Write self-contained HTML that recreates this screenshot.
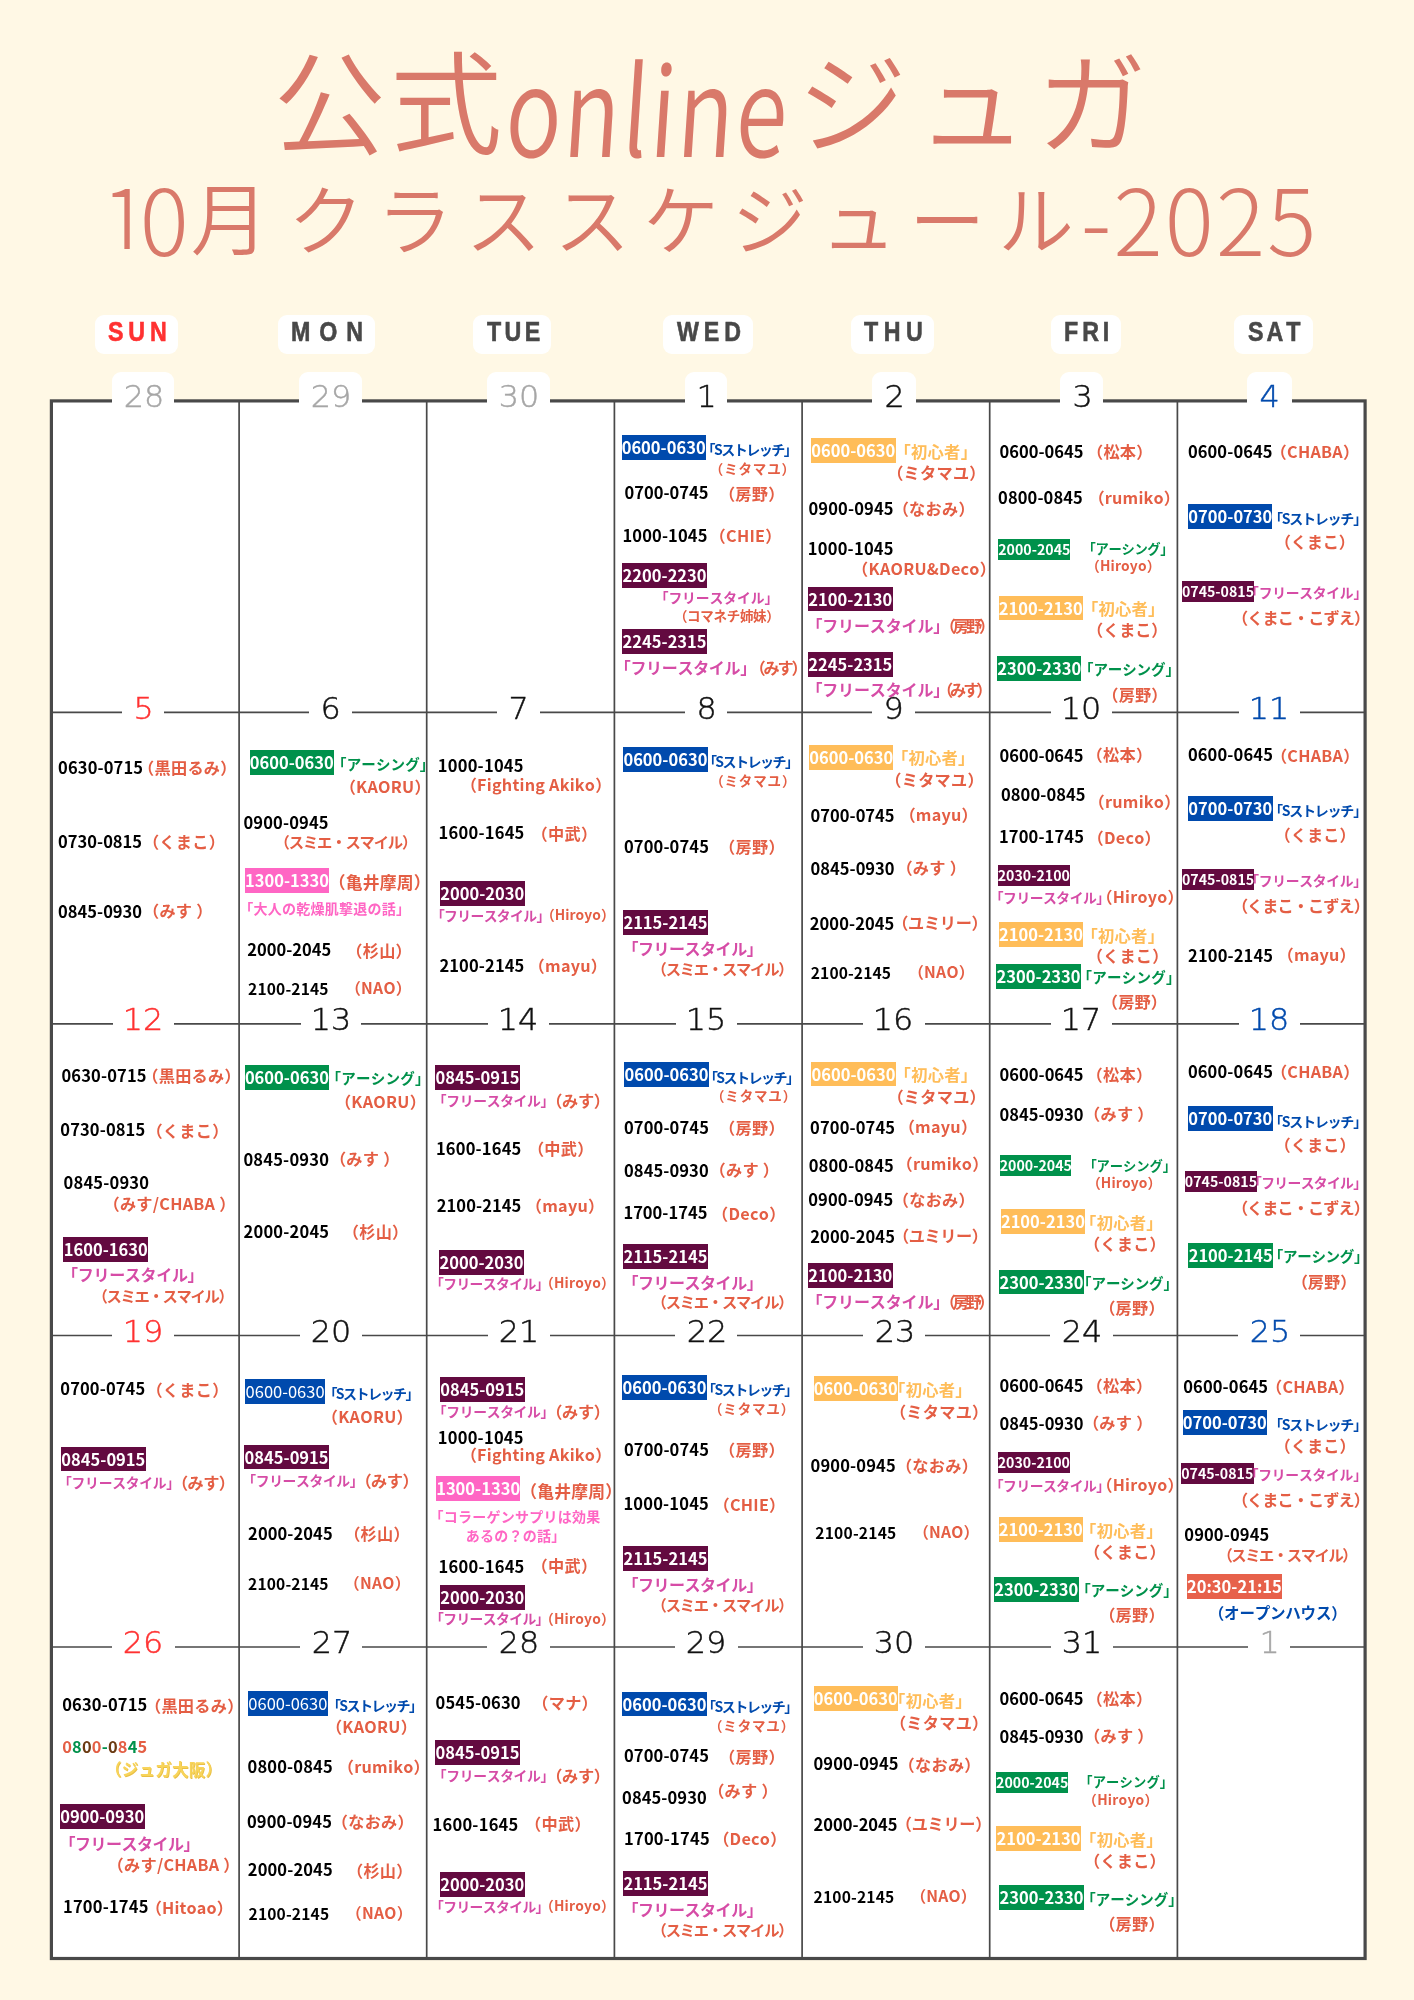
<!DOCTYPE html>
<html lang="ja"><head><meta charset="utf-8"><title>公式onlineジュガ 10月クラススケジュール-2025</title>
<style>
html,body{margin:0;padding:0}
body{width:1414px;height:2000px;background:#fff8e5;position:relative;overflow:hidden;font-family:"Noto Sans CJK JP","Liberation Sans",sans-serif;font-weight:700;font-size:16px;line-height:24px;font-kerning:none}
#c{position:absolute;left:0;top:0;width:1414px;height:2000px;will-change:transform}
#c>div{position:absolute;white-space:pre}
.grid{position:absolute;left:0;top:0}
.s{color:#e45e44}.k{color:#000}.b{color:#004aad}.o{color:#ffbd59}.p{color:#d64ca6}.g{color:#00914b}.h{color:#ff66c4}.y{color:#f8d45a}.t{color:#d9796a}
.x{color:#fff;text-align:center;overflow:visible}
.B{background:#004aad}.O{background:#ffbd59}.U{background:#630a40}.G{background:#00914b}.H{background:#ff66c4}.R{background:#e7614b}
.dp{top:314.7px;height:39.2px;background:#fff;border-radius:9px}
.dn{top:312px;line-height:40px;font-family:"Liberation Sans",sans-serif;font-size:27px;font-weight:700;color:#484848;transform:scaleX(.86);transform-origin:0 50%;-webkit-text-stroke:.6px currentColor}
.sun{color:#ff3131}
.one{display:inline-block;clip-path:inset(0 0 21.5px 0)}
.pl{height:42px;background:#fff;border-radius:9px}
.dt{font-family:"DejaVu Sans","Liberation Sans",sans-serif;font-weight:200;font-size:30px;line-height:40px;color:#111;-webkit-text-stroke:.45px currentColor;transform:scaleX(1.06)}
.gy{color:#a6a6a6}.rd{color:#ff3131}.bl{color:#004aad}
</style></head>
<body>
<svg class="grid" width="1414" height="2000" viewBox="0 0 1414 2000">
<rect x="51.4" y="400.9" width="1313.7" height="1557.6" fill="#fff" stroke="#494949" stroke-width="3.2"/>
<path d="M239.1 400.9V1958.5M426.7 400.9V1958.5M614.4 400.9V1958.5M802.1 400.9V1958.5M989.7 400.9V1958.5M1177.4 400.9V1958.5M51.4 712.4H1365.1M51.4 1023.9H1365.1M51.4 1335.5H1365.1M51.4 1647H1365.1" stroke="#494949" stroke-width="1.7" fill="none"/>
</svg>
<div id="c">
<div class="dp" style="left:94.6px;width:83.7px"></div>
<div class="dn sun" style="left:108.1px;letter-spacing:5.62px">SUN</div>
<div class="dp" style="left:278.2px;width:96.5px"></div>
<div class="dn" style="left:291.1px;letter-spacing:10.35px">MON</div>
<div class="dp" style="left:473.1px;width:78.3px"></div>
<div class="dn" style="left:486.7px;letter-spacing:3.94px">TUE</div>
<div class="dp" style="left:662.5px;width:90.1px"></div>
<div class="dn" style="left:676.5px;letter-spacing:5.72px">WED</div>
<div class="dp" style="left:850.8px;width:83.1px"></div>
<div class="dn" style="left:864.1px;letter-spacing:6.48px">THU</div>
<div class="dp" style="left:1050.9px;width:70.1px"></div>
<div class="dn" style="left:1063.9px;letter-spacing:4.60px">FRI</div>
<div class="dp" style="left:1233.8px;width:79.2px"></div>
<div class="dn" style="left:1247.5px;letter-spacing:3.46px">SAT</div>
<div class="pl" style="left:111.9px;top:372px;width:62.6px"></div>
<div class="dt gy" style="left:124.6px;top:377.3px">28</div>
<div class="pl" style="left:299.4px;top:372px;width:63.1px"></div>
<div class="dt gy" style="left:312px;top:377.3px">29</div>
<div class="pl" style="left:487.3px;top:372px;width:62.6px"></div>
<div class="dt gy" style="left:499.9px;top:377.3px">30</div>
<div class="pl" style="left:685.4px;top:372px;width:41.7px"></div>
<div class="dt" style="left:696.6px;top:377.3px">1</div>
<div class="pl" style="left:872.1px;top:372px;width:43.5px"></div>
<div class="dt" style="left:884.8px;top:377.3px">2</div>
<div class="pl" style="left:1060.1px;top:372px;width:43.1px"></div>
<div class="dt" style="left:1072.7px;top:377.3px">3</div>
<div class="pl" style="left:1247px;top:372px;width:44.5px"></div>
<div class="dt bl" style="left:1260.1px;top:377.3px">4</div>
<div class="pl" style="left:122.2px;top:683.5px;width:42.1px"></div>
<div class="dt rd" style="left:133.9px;top:688.9px">5</div>
<div class="pl" style="left:309.4px;top:683.5px;width:43.1px"></div>
<div class="dt" style="left:321.1px;top:688.9px">6</div>
<div class="pl" style="left:497.3px;top:683.5px;width:42.6px"></div>
<div class="dt" style="left:509.4px;top:688.9px">7</div>
<div class="pl" style="left:684.9px;top:683.5px;width:42.6px"></div>
<div class="dt" style="left:696.6px;top:688.9px">8</div>
<div class="pl" style="left:872.4px;top:683.5px;width:43.1px"></div>
<div class="dt" style="left:884.1px;top:688.9px">9</div>
<div class="pl" style="left:1051px;top:683.5px;width:61.2px"></div>
<div class="dt" style="left:1062.2px;top:688.9px">10</div>
<div class="pl" style="left:1238.9px;top:683.5px;width:60.7px"></div>
<div class="dt bl" style="left:1250.1px;top:688.9px">11</div>
<div class="pl" style="left:112.6px;top:995px;width:61.2px"></div>
<div class="dt rd" style="left:123.8px;top:1000.4px">12</div>
<div class="pl" style="left:300.5px;top:995px;width:60.7px"></div>
<div class="dt" style="left:311.8px;top:1000.4px">13</div>
<div class="pl" style="left:487.7px;top:995px;width:61.7px"></div>
<div class="dt" style="left:499px;top:1000.4px">14</div>
<div class="pl" style="left:675.9px;top:995px;width:60.7px"></div>
<div class="dt" style="left:687.1px;top:1000.4px">15</div>
<div class="pl" style="left:863.1px;top:995px;width:61.7px"></div>
<div class="dt" style="left:874.3px;top:1000.4px">16</div>
<div class="pl" style="left:1051.2px;top:995px;width:60.7px"></div>
<div class="dt" style="left:1062.4px;top:1000.4px">17</div>
<div class="pl" style="left:1238.6px;top:995px;width:61.2px"></div>
<div class="dt bl" style="left:1249.9px;top:1000.4px">18</div>
<div class="pl" style="left:112.4px;top:1306.6px;width:61.7px"></div>
<div class="dt rd" style="left:123.6px;top:1311.9px">19</div>
<div class="pl" style="left:299.6px;top:1306.6px;width:62.6px"></div>
<div class="dt" style="left:312.2px;top:1311.9px">20</div>
<div class="pl" style="left:487.5px;top:1306.6px;width:62.1px"></div>
<div class="dt" style="left:500.1px;top:1311.9px">21</div>
<div class="pl" style="left:674.9px;top:1306.6px;width:62.6px"></div>
<div class="dt" style="left:687.6px;top:1311.9px">22</div>
<div class="pl" style="left:862.8px;top:1306.6px;width:62.1px"></div>
<div class="dt" style="left:875.5px;top:1311.9px">23</div>
<div class="pl" style="left:1050px;top:1306.6px;width:63.1px"></div>
<div class="dt" style="left:1062.7px;top:1311.9px">24</div>
<div class="pl" style="left:1238.2px;top:1306.6px;width:62.1px"></div>
<div class="dt bl" style="left:1250.8px;top:1311.9px">25</div>
<div class="pl" style="left:111.7px;top:1618.1px;width:63.1px"></div>
<div class="dt rd" style="left:124.3px;top:1623.4px">26</div>
<div class="pl" style="left:299.8px;top:1618.1px;width:62.1px"></div>
<div class="dt" style="left:312.5px;top:1623.4px">27</div>
<div class="pl" style="left:487.3px;top:1618.1px;width:62.6px"></div>
<div class="dt" style="left:499.9px;top:1623.4px">28</div>
<div class="pl" style="left:674.7px;top:1618.1px;width:63.1px"></div>
<div class="dt" style="left:687.3px;top:1623.4px">29</div>
<div class="pl" style="left:862.6px;top:1618.1px;width:62.6px"></div>
<div class="dt" style="left:875.2px;top:1623.4px">30</div>
<div class="pl" style="left:1050.5px;top:1618.1px;width:62.1px"></div>
<div class="dt" style="left:1063.1px;top:1623.4px">31</div>
<div class="pl" style="left:1248.4px;top:1618.1px;width:41.7px"></div>
<div class="dt gy" style="left:1259.6px;top:1623.4px">1</div>
<div class="x B" style="left:621.6px;top:435.3px;width:84.1px;height:24.8px;line-height:25.6px;font-size:16.5px">0600-0630</div>
<div class="b" style="left:701.6px;top:437.4px;font-size:14px;letter-spacing:-1.52px">「Sストレッチ」</div>
<div class="s" style="left:709.8px;top:456.3px;font-size:13.5px;letter-spacing:0.84px">（ミタマユ）</div>
<div class="k" style="left:624.5px;top:480.4px;font-size:16.5px">0700-0745</div>
<div class="s" style="left:718.9px;top:480.8px;font-size:16.2px;letter-spacing:0.25px">（房野）</div>
<div class="k" style="left:622.5px;top:522.6px;font-size:16.5px;letter-spacing:0.11px">1000-1045</div>
<div class="s" style="left:709.6px;top:523px;font-size:16.2px;letter-spacing:0.25px">（CHIE）</div>
<div class="x U" style="left:622.1px;top:563.3px;width:85px;height:24.8px;line-height:25.6px;font-size:16.5px">2200-2230</div>
<div class="p" style="left:654.7px;top:585px;font-size:13.8px;letter-spacing:-0.08px">「フリースタイル」</div>
<div class="s" style="left:673.9px;top:602.5px;font-size:13.5px;letter-spacing:-0.30px">（コマネチ姉妹）</div>
<div class="x U" style="left:622.1px;top:628.9px;width:85px;height:24.8px;line-height:25.6px;font-size:16.5px">2245-2315</div>
<div class="p" style="left:614.7px;top:655.2px;letter-spacing:-0.31px">「フリースタイル」</div>
<div class="s" style="left:749.4px;top:655.3px;font-size:16.2px;letter-spacing:-2.13px">（みす）</div>
<div class="x O" style="left:810.8px;top:438.1px;width:84.9px;height:24.8px;line-height:25.6px;font-size:16.5px">0600-0630</div>
<div class="o" style="left:894.5px;top:438.6px;font-size:16.3px;letter-spacing:0.25px">「初心者」</div>
<div class="s" style="left:887.2px;top:460.1px;font-size:16.2px;letter-spacing:0.25px">（ミタマユ）</div>
<div class="k" style="left:808.4px;top:495.5px;font-size:16.5px;letter-spacing:0.14px">0900-0945</div>
<div class="s" style="left:892.7px;top:495.9px;font-size:16.2px;letter-spacing:0.25px">（なおみ）</div>
<div class="k" style="left:807.8px;top:536.3px;font-size:16.5px;letter-spacing:0.22px">1000-1045</div>
<div class="s" style="left:852.1px;top:555.5px;font-size:16.2px;letter-spacing:0.25px">（KAORU&amp;Deco）</div>
<div class="x U" style="left:808px;top:586.5px;width:84.7px;height:24.8px;line-height:25.6px;font-size:16.5px">2100-2130</div>
<div class="p" style="left:806.4px;top:612.5px;letter-spacing:-0.14px">「フリースタイル」</div>
<div class="s" style="left:939.7px;top:612.6px;font-size:16.2px;letter-spacing:-3.07px">（房野）</div>
<div class="x U" style="left:808px;top:652.1px;width:84.7px;height:24.8px;line-height:25.6px;font-size:16.5px">2245-2315</div>
<div class="p" style="left:806.4px;top:677.3px;letter-spacing:-0.14px">「フリースタイル」</div>
<div class="s" style="left:936.9px;top:677.4px;font-size:16.2px;letter-spacing:-3.07px">（みす）</div>
<div class="k" style="left:999.5px;top:439px;font-size:16.5px">0600-0645</div>
<div class="s" style="left:1087px;top:439.4px;font-size:16.2px;letter-spacing:0.25px">（松本）</div>
<div class="k" style="left:998.1px;top:484.5px;font-size:16.5px;letter-spacing:0.09px">0800-0845</div>
<div class="s" style="left:1088.5px;top:484.9px;font-size:16.2px;letter-spacing:0.18px">（rumiko）</div>
<div class="x G" style="left:998.2px;top:538.5px;width:71.8px;height:21px;line-height:21.8px;font-size:14.2px">2000-2045</div>
<div class="g" style="left:1082.4px;top:536.9px;font-size:13.3px;letter-spacing:-0.30px">「アーシング」</div>
<div class="s" style="left:1086px;top:553.3px;font-size:13.8px;letter-spacing:0.15px">（Hiroyo）</div>
<div class="x O" style="left:998.8px;top:595.6px;width:84.1px;height:24.8px;line-height:25.6px;font-size:16.5px">2100-2130</div>
<div class="o" style="left:1081.9px;top:595.9px;font-size:16.3px;letter-spacing:0.25px">「初心者」</div>
<div class="s" style="left:1087.1px;top:616.7px;font-size:16.2px;letter-spacing:-0.12px">（くまこ）</div>
<div class="x G" style="left:997.1px;top:655.9px;width:84.4px;height:24.8px;line-height:25.6px;font-size:16.5px">2300-2330</div>
<div class="g" style="left:1079px;top:656.9px;font-size:14.5px;letter-spacing:-0.10px">「アーシング」</div>
<div class="s" style="left:1102.3px;top:681.5px;font-size:16.2px;letter-spacing:0.17px">（房野）</div>
<div class="k" style="left:1187.9px;top:439px;font-size:16.5px;letter-spacing:0.09px">0600-0645</div>
<div class="s" style="left:1270.6px;top:439.4px;font-size:16.2px;letter-spacing:0.25px">（CHABA）</div>
<div class="x B" style="left:1188.3px;top:503.8px;width:84.1px;height:24.8px;line-height:25.6px;font-size:16.5px">0700-0730</div>
<div class="b" style="left:1269px;top:505.8px;font-size:14px;letter-spacing:-1.23px">「Sストレッチ」</div>
<div class="s" style="left:1274.7px;top:528.5px;font-size:16.2px;letter-spacing:-0.15px">（くまこ）</div>
<div class="x U" style="left:1181.9px;top:581px;width:72px;height:21px;line-height:21.8px;font-size:14.2px">0745-0815</div>
<div class="p" style="left:1245.1px;top:579.5px;font-size:13.8px;letter-spacing:-0.26px">「フリースタイル」</div>
<div class="s" style="left:1231.9px;top:604.9px;font-size:16.2px;letter-spacing:-0.92px">（くまこ・こずえ）</div>
<div class="k" style="left:58.1px;top:754.6px;font-size:16.5px;letter-spacing:0.11px">0630-0715</div>
<div class="s" style="left:138.1px;top:755px;font-size:16.2px;letter-spacing:0.25px">（黒田るみ）</div>
<div class="k" style="left:58.1px;top:828.5px;font-size:16.5px">0730-0815</div>
<div class="s" style="left:142.9px;top:828.9px;font-size:16.2px;letter-spacing:0.25px">（くまこ）</div>
<div class="k" style="left:58.1px;top:898.8px;font-size:16.5px">0845-0930</div>
<div class="s" style="left:143px;top:897.8px;font-size:16.2px;letter-spacing:0.25px">（みす ）</div>
<div class="x G" style="left:249.7px;top:750.4px;width:84.3px;height:24.8px;line-height:25.6px;font-size:16.5px">0600-0630</div>
<div class="g" style="left:332px;top:752.4px;font-size:14.5px;letter-spacing:0.13px">「アーシング」</div>
<div class="s" style="left:339.7px;top:774.3px;font-size:16.2px;letter-spacing:0.25px">（KAORU）</div>
<div class="k" style="left:243.4px;top:810.3px;font-size:16.5px;letter-spacing:0.14px">0900-0945</div>
<div class="s" style="left:274.6px;top:829.4px;font-size:15.3px;letter-spacing:-1.14px">（スミエ・スマイル）</div>
<div class="x H" style="left:245px;top:868.1px;width:84.1px;height:24.8px;line-height:25.6px;font-size:16.5px">1300-1330</div>
<div class="s" style="left:328.7px;top:870.1px;font-size:16.8px;letter-spacing:0.25px">（亀井摩周）</div>
<div class="h" style="left:239.2px;top:896.1px;font-size:14px;letter-spacing:0.25px">「大人の乾燥肌撃退の話」</div>
<div class="k" style="left:247.2px;top:937.2px;font-size:16.5px">2000-2045</div>
<div class="s" style="left:346.3px;top:937.6px;font-size:16.2px;letter-spacing:0.25px">（杉山）</div>
<div class="k" style="left:248.1px;top:976.1px;font-size:15.6px;letter-spacing:0.13px">2100-2145</div>
<div class="s" style="left:345.2px;top:976.3px;font-size:15.7px;letter-spacing:0.25px">（NAO）</div>
<div class="k" style="left:437.8px;top:753.2px;font-size:16.5px;letter-spacing:0.22px">1000-1045</div>
<div class="s" style="left:460.7px;top:771.7px;font-size:16.2px;letter-spacing:0.23px">（Fighting Akiko）</div>
<div class="k" style="left:438.6px;top:820.2px;font-size:16.5px;letter-spacing:0.22px">1600-1645</div>
<div class="s" style="left:531.6px;top:820.6px;font-size:16.2px;letter-spacing:0.25px">（中武）</div>
<div class="x U" style="left:439.9px;top:881.2px;width:84.7px;height:24.8px;line-height:25.6px;font-size:16.5px">2000-2030</div>
<div class="p" style="left:430.9px;top:902.5px;font-size:13.8px;letter-spacing:-0.60px">「フリースタイル」</div>
<div class="s" style="left:540.9px;top:901.7px;font-size:13.8px;letter-spacing:0.06px">（Hiroyo）</div>
<div class="k" style="left:439.4px;top:953.1px;font-size:16.5px;letter-spacing:0.12px">2100-2145</div>
<div class="s" style="left:528.6px;top:952.5px;font-size:16.2px;letter-spacing:0.25px">（mayu）</div>
<div class="x B" style="left:623.1px;top:747.1px;width:84.6px;height:24.8px;line-height:25.6px;font-size:16.5px">0600-0630</div>
<div class="b" style="left:702.9px;top:748.9px;font-size:14px;letter-spacing:-1.52px">「Sストレッチ」</div>
<div class="s" style="left:710.2px;top:767.5px;font-size:13.5px;letter-spacing:0.84px">（ミタマユ）</div>
<div class="k" style="left:624px;top:833.7px;font-size:16.5px;letter-spacing:0.11px">0700-0745</div>
<div class="s" style="left:719.1px;top:834.1px;font-size:16.2px;letter-spacing:0.25px">（房野）</div>
<div class="x U" style="left:623.1px;top:910.1px;width:84.6px;height:24.8px;line-height:25.6px;font-size:16.5px">2115-2145</div>
<div class="p" style="left:622.5px;top:936.1px;letter-spacing:-0.48px">「フリースタイル」</div>
<div class="s" style="left:651.6px;top:955.8px;font-size:15.3px;letter-spacing:-1.23px">（スミエ・スマイル）</div>
<div class="x O" style="left:809.1px;top:744.9px;width:84.4px;height:24.8px;line-height:25.6px;font-size:16.5px">0600-0630</div>
<div class="o" style="left:891.9px;top:745.1px;font-size:16.3px;letter-spacing:0.25px">「初心者」</div>
<div class="s" style="left:885.3px;top:767.4px;font-size:16.2px;letter-spacing:0.25px">（ミタマユ）</div>
<div class="k" style="left:810.6px;top:802.8px;font-size:16.5px">0700-0745</div>
<div class="s" style="left:899.4px;top:802.2px;font-size:16.2px;letter-spacing:0.25px">（mayu）</div>
<div class="k" style="left:810.6px;top:856.1px;font-size:16.5px">0845-0930</div>
<div class="s" style="left:896.4px;top:854.8px;font-size:16.2px;letter-spacing:0.25px">（みす ）</div>
<div class="k" style="left:809.7px;top:911.2px;font-size:16.5px;letter-spacing:0.08px">2000-2045</div>
<div class="s" style="left:892.2px;top:909.8px;font-size:16.2px;letter-spacing:-0.30px">（ユミリー）</div>
<div class="k" style="left:810.8px;top:959.6px;font-size:15.6px;letter-spacing:0.10px">2100-2145</div>
<div class="s" style="left:908.2px;top:959.8px;font-size:15.7px;letter-spacing:0.25px">（NAO）</div>
<div class="k" style="left:999.6px;top:743px;font-size:16.5px">0600-0645</div>
<div class="s" style="left:1086.6px;top:742.3px;font-size:16.2px;letter-spacing:0.25px">（松本）</div>
<div class="k" style="left:1001px;top:782.1px;font-size:16.5px;letter-spacing:0.07px">0800-0845</div>
<div class="s" style="left:1088.5px;top:789.4px;font-size:16.2px;letter-spacing:0.25px">（rumiko）</div>
<div class="k" style="left:999px;top:824.3px;font-size:16.5px;letter-spacing:0.11px">1700-1745</div>
<div class="s" style="left:1087.5px;top:824.7px;font-size:16.2px;letter-spacing:0.25px">（Deco）</div>
<div class="x U" style="left:997.5px;top:865px;width:72.6px;height:21px;line-height:21.8px;font-size:14.2px">2030-2100</div>
<div class="p" style="left:989.8px;top:885.1px;font-size:13.8px;letter-spacing:-0.49px">「フリースタイル」</div>
<div class="s" style="left:1096.5px;top:884px;letter-spacing:0.25px">（Hiroyo）</div>
<div class="x O" style="left:998.9px;top:922.1px;width:84.1px;height:24.8px;line-height:25.6px;font-size:16.5px">2100-2130</div>
<div class="o" style="left:1081.5px;top:922.5px;font-size:16.3px;letter-spacing:0.25px">「初心者」</div>
<div class="s" style="left:1086.7px;top:943.3px;font-size:16.2px;letter-spacing:0.20px">（くまこ）</div>
<div class="x G" style="left:996.1px;top:963.9px;width:85px;height:24.8px;line-height:25.6px;font-size:16.5px">2300-2330</div>
<div class="g" style="left:1077.5px;top:965.2px;font-size:14.5px;letter-spacing:0.25px">「アーシング」</div>
<div class="s" style="left:1101.8px;top:989.4px;font-size:16.2px;letter-spacing:0.17px">（房野）</div>
<div class="k" style="left:1187.9px;top:742.2px;font-size:16.5px;letter-spacing:0.13px">0600-0645</div>
<div class="s" style="left:1270.9px;top:742.6px;font-size:16.2px;letter-spacing:0.25px">（CHABA）</div>
<div class="x B" style="left:1188px;top:796.1px;width:84.7px;height:24.8px;line-height:25.6px;font-size:16.5px">0700-0730</div>
<div class="b" style="left:1269px;top:798.2px;font-size:14px;letter-spacing:-1.23px">「Sストレッチ」</div>
<div class="s" style="left:1274.4px;top:821.9px;font-size:16.2px;letter-spacing:0.10px">（くまこ）</div>
<div class="x U" style="left:1182px;top:869px;width:72.1px;height:21px;line-height:21.8px;font-size:14.2px">0745-0815</div>
<div class="p" style="left:1245.3px;top:867.5px;font-size:13.8px;letter-spacing:-0.31px">「フリースタイル」</div>
<div class="s" style="left:1231.9px;top:892.8px;font-size:16.2px;letter-spacing:-0.96px">（くまこ・こずえ）</div>
<div class="k" style="left:1188.1px;top:942.7px;font-size:16.5px;letter-spacing:0.11px">2100-2145</div>
<div class="s" style="left:1277.6px;top:942.1px;font-size:16.2px;letter-spacing:0.20px">（mayu）</div>
<div class="k" style="left:61.4px;top:1062.8px;font-size:16.5px;letter-spacing:0.14px">0630-0715</div>
<div class="s" style="left:142.3px;top:1063.2px;font-size:16.2px;letter-spacing:0.25px">（黒田るみ）</div>
<div class="k" style="left:60.3px;top:1117.4px;font-size:16.5px;letter-spacing:0.11px">0730-0815</div>
<div class="s" style="left:146.4px;top:1117.8px;font-size:16.2px;letter-spacing:0.25px">（くまこ）</div>
<div class="k" style="left:63.6px;top:1170.4px;font-size:16.5px;letter-spacing:0.18px">0845-0930</div>
<div class="s" style="left:103.5px;top:1190.8px;font-size:16.2px;letter-spacing:0.25px">（みす/CHABA ）</div>
<div class="x U" style="left:63.2px;top:1237.2px;width:85px;height:24.8px;line-height:25.6px;font-size:16.5px">1600-1630</div>
<div class="p" style="left:62.1px;top:1262.2px;letter-spacing:-0.31px">「フリースタイル」</div>
<div class="s" style="left:92.6px;top:1282.5px;font-size:15.3px;letter-spacing:-1.30px">（スミエ・スマイル）</div>
<div class="x G" style="left:244.7px;top:1064.9px;width:84.4px;height:24.8px;line-height:25.6px;font-size:16.5px">0600-0630</div>
<div class="g" style="left:326.5px;top:1066.2px;font-size:14.5px;letter-spacing:0.23px">「アーシング」</div>
<div class="s" style="left:334.9px;top:1088.8px;font-size:16.2px;letter-spacing:0.25px">（KAORU）</div>
<div class="k" style="left:243.4px;top:1146.9px;font-size:16.5px;letter-spacing:0.19px">0845-0930</div>
<div class="s" style="left:329.9px;top:1145.8px;font-size:16.2px;letter-spacing:0.25px">（みす ）</div>
<div class="k" style="left:243.6px;top:1218.6px;font-size:16.5px;letter-spacing:0.19px">2000-2045</div>
<div class="s" style="left:342.8px;top:1219px;font-size:16.2px;letter-spacing:0.25px">（杉山）</div>
<div class="x U" style="left:435.2px;top:1064.8px;width:84.7px;height:24.8px;line-height:25.6px;font-size:16.5px">0845-0915</div>
<div class="p" style="left:432.8px;top:1088px;font-size:13.8px;letter-spacing:-0.33px">「フリースタイル」</div>
<div class="s" style="left:546.2px;top:1088px;font-size:16.2px;letter-spacing:-0.30px">（みす）</div>
<div class="k" style="left:435.9px;top:1136.4px;font-size:16.5px;letter-spacing:0.18px">1600-1645</div>
<div class="s" style="left:527.9px;top:1135.8px;font-size:16.2px;letter-spacing:0.25px">（中武）</div>
<div class="k" style="left:436.7px;top:1193.3px;font-size:16.5px;letter-spacing:0.08px">2100-2145</div>
<div class="s" style="left:525.8px;top:1192.7px;font-size:16.2px;letter-spacing:0.25px">（mayu）</div>
<div class="x U" style="left:439.1px;top:1249.8px;width:84.9px;height:24.8px;line-height:25.6px;font-size:16.5px">2000-2030</div>
<div class="p" style="left:430px;top:1270.9px;font-size:13.8px;letter-spacing:-0.60px">「フリースタイル」</div>
<div class="s" style="left:540px;top:1270.1px;font-size:13.8px;letter-spacing:0.19px">（Hiroyo）</div>
<div class="x B" style="left:624.2px;top:1062.4px;width:84.6px;height:24.8px;line-height:25.6px;font-size:16.5px">0600-0630</div>
<div class="b" style="left:703.9px;top:1064.6px;font-size:14px;letter-spacing:-1.52px">「Sストレッチ」</div>
<div class="s" style="left:711px;top:1082.6px;font-size:13.5px;letter-spacing:0.84px">（ミタマユ）</div>
<div class="k" style="left:624px;top:1114.7px;font-size:16.5px;letter-spacing:0.11px">0700-0745</div>
<div class="s" style="left:719.1px;top:1115px;font-size:16.2px;letter-spacing:0.25px">（房野）</div>
<div class="k" style="left:624px;top:1158px;font-size:16.5px;letter-spacing:0.08px">0845-0930</div>
<div class="s" style="left:709.6px;top:1156.8px;font-size:16.2px;letter-spacing:0.25px">（みす ）</div>
<div class="k" style="left:623.4px;top:1200.2px;font-size:16.5px">1700-1745</div>
<div class="s" style="left:712.1px;top:1200.5px;font-size:16.2px;letter-spacing:0.25px">（Deco）</div>
<div class="x U" style="left:623.1px;top:1243.9px;width:84.6px;height:24.8px;line-height:25.6px;font-size:16.5px">2115-2145</div>
<div class="p" style="left:622.5px;top:1270px;letter-spacing:-0.48px">「フリースタイル」</div>
<div class="s" style="left:651.6px;top:1288.8px;font-size:15.3px;letter-spacing:-1.23px">（スミエ・スマイル）</div>
<div class="x O" style="left:811.3px;top:1061.7px;width:84.4px;height:24.8px;line-height:25.6px;font-size:16.5px">0600-0630</div>
<div class="o" style="left:894.6px;top:1062.2px;font-size:16.3px;letter-spacing:0.25px">「初心者」</div>
<div class="s" style="left:887.4px;top:1084.3px;font-size:16.2px;letter-spacing:0.25px">（ミタマユ）</div>
<div class="k" style="left:810.1px;top:1114.7px;font-size:16.5px;letter-spacing:0.11px">0700-0745</div>
<div class="s" style="left:898.7px;top:1114px;font-size:16.2px;letter-spacing:0.25px">（mayu）</div>
<div class="k" style="left:808.7px;top:1153.3px;font-size:16.5px;letter-spacing:0.14px">0800-0845</div>
<div class="s" style="left:896.5px;top:1150.5px;font-size:16.2px;letter-spacing:0.25px">（rumiko）</div>
<div class="k" style="left:808.2px;top:1186.9px;font-size:16.5px;letter-spacing:0.13px">0900-0945</div>
<div class="s" style="left:892.8px;top:1187.2px;font-size:16.2px;letter-spacing:0.25px">（なおみ）</div>
<div class="k" style="left:810.3px;top:1224.2px;font-size:16.5px;letter-spacing:0.08px">2000-2045</div>
<div class="s" style="left:893.1px;top:1223.2px;font-size:16.2px;letter-spacing:-0.48px">（ユミリー）</div>
<div class="x U" style="left:808px;top:1263.1px;width:84.7px;height:24.8px;line-height:25.6px;font-size:16.5px">2100-2130</div>
<div class="p" style="left:806.4px;top:1289.3px;letter-spacing:-0.14px">「フリースタイル」</div>
<div class="s" style="left:939.7px;top:1289.3px;font-size:16.2px;letter-spacing:-3.23px">（房野）</div>
<div class="k" style="left:999.6px;top:1062.3px;font-size:16.5px">0600-0645</div>
<div class="s" style="left:1086.6px;top:1061.8px;font-size:16.2px;letter-spacing:0.25px">（松本）</div>
<div class="k" style="left:999.6px;top:1102px;font-size:16.5px">0845-0930</div>
<div class="s" style="left:1084.1px;top:1100.8px;font-size:16.2px;letter-spacing:0.25px">（みす ）</div>
<div class="x G" style="left:999.7px;top:1155.2px;width:71.7px;height:21px;line-height:21.8px;font-size:14.2px">2000-2045</div>
<div class="g" style="left:1083.4px;top:1153.9px;font-size:13.3px;letter-spacing:-0.08px">「アーシング」</div>
<div class="s" style="left:1086.9px;top:1170px;font-size:13.8px;letter-spacing:0.15px">（Hiroyo）</div>
<div class="x O" style="left:1000.6px;top:1208.9px;width:84.6px;height:24.8px;line-height:25.6px;font-size:16.5px">2100-2130</div>
<div class="o" style="left:1080.1px;top:1209.8px;font-size:16.3px;letter-spacing:0.25px">「初心者」</div>
<div class="s" style="left:1083.9px;top:1230.8px;font-size:16.2px;letter-spacing:0.23px">（くまこ）</div>
<div class="x G" style="left:999.2px;top:1269.6px;width:84.6px;height:24.8px;line-height:25.6px;font-size:16.5px">2300-2330</div>
<div class="g" style="left:1077.1px;top:1271px;font-size:14.5px;letter-spacing:-0.10px">「アーシング」</div>
<div class="s" style="left:1099.2px;top:1294.8px;font-size:16.2px;letter-spacing:0.25px">（房野）</div>
<div class="k" style="left:1187.9px;top:1058.9px;font-size:16.5px;letter-spacing:0.13px">0600-0645</div>
<div class="s" style="left:1270.9px;top:1059.2px;font-size:16.2px;letter-spacing:0.25px">（CHABA）</div>
<div class="x B" style="left:1188px;top:1106px;width:84.7px;height:24.8px;line-height:25.6px;font-size:16.5px">0700-0730</div>
<div class="b" style="left:1269px;top:1108.5px;font-size:14px;letter-spacing:-1.23px">「Sストレッチ」</div>
<div class="s" style="left:1274.4px;top:1131.8px;font-size:16.2px;letter-spacing:0.10px">（くまこ）</div>
<div class="x U" style="left:1184.8px;top:1171.2px;width:72.1px;height:21px;line-height:21.8px;font-size:14.2px">0745-0815</div>
<div class="p" style="left:1248.1px;top:1169.9px;font-size:13.8px;letter-spacing:-0.66px">「フリースタイル」</div>
<div class="s" style="left:1231.9px;top:1195px;font-size:16.2px;letter-spacing:-0.96px">（くまこ・こずえ）</div>
<div class="x G" style="left:1188.3px;top:1242.8px;width:84.7px;height:24.8px;line-height:25.6px;font-size:16.5px">2100-2145</div>
<div class="g" style="left:1268.8px;top:1244px;font-size:14.5px;letter-spacing:-0.30px">「アーシング」</div>
<div class="s" style="left:1291.7px;top:1268.8px;font-size:16.2px">（房野）</div>
<div class="k" style="left:60.3px;top:1376.2px;font-size:16.5px;letter-spacing:0.11px">0700-0745</div>
<div class="s" style="left:146.4px;top:1376.5px;font-size:16.2px;letter-spacing:0.25px">（くまこ）</div>
<div class="x U" style="left:61px;top:1446.6px;width:84.7px;height:24.8px;line-height:25.6px;font-size:16.5px">0845-0915</div>
<div class="p" style="left:58px;top:1469.8px;font-size:13.8px;letter-spacing:-0.25px">「フリースタイル」</div>
<div class="s" style="left:172px;top:1469.8px;font-size:16.2px;letter-spacing:-0.60px">（みす）</div>
<div class="x B" style="left:245px;top:1378.8px;width:80.2px;height:24.8px;line-height:25.6px;font-size:16.5px;font-weight:400">0600-0630</div>
<div class="b" style="left:323.4px;top:1381.3px;font-size:14px;letter-spacing:-1.52px">「Sストレッチ」</div>
<div class="s" style="left:321.8px;top:1403.5px;font-size:16.2px;letter-spacing:0.25px">（KAORU）</div>
<div class="x U" style="left:244.1px;top:1444.6px;width:85px;height:24.8px;line-height:25.6px;font-size:16.5px">0845-0915</div>
<div class="p" style="left:242.3px;top:1467.6px;font-size:13.8px;letter-spacing:-0.36px">「フリースタイル」</div>
<div class="s" style="left:355.4px;top:1467.5px;font-size:16.2px;letter-spacing:-0.50px">（みす）</div>
<div class="k" style="left:248.1px;top:1521px;font-size:16.5px;letter-spacing:0.07px">2000-2045</div>
<div class="s" style="left:344.2px;top:1521.3px;font-size:16.2px;letter-spacing:0.25px">（杉山）</div>
<div class="k" style="left:248.1px;top:1570.7px;font-size:15.6px;letter-spacing:0.13px">2100-2145</div>
<div class="s" style="left:344.1px;top:1570.9px;font-size:15.7px;letter-spacing:0.25px">（NAO）</div>
<div class="x U" style="left:439.9px;top:1376.8px;width:84.7px;height:24.8px;line-height:25.6px;font-size:16.5px">0845-0915</div>
<div class="p" style="left:432.8px;top:1399.2px;font-size:13.8px;letter-spacing:-0.33px">「フリースタイル」</div>
<div class="s" style="left:546.2px;top:1399.2px;font-size:16.2px;letter-spacing:-0.30px">（みす）</div>
<div class="k" style="left:437.8px;top:1424.5px;font-size:16.5px;letter-spacing:0.22px">1000-1045</div>
<div class="s" style="left:460.7px;top:1442px;font-size:16.2px;letter-spacing:0.23px">（Fighting Akiko）</div>
<div class="x H" style="left:435.8px;top:1476.3px;width:84.7px;height:24.8px;line-height:25.6px;font-size:16.5px">1300-1330</div>
<div class="s" style="left:520.2px;top:1478.5px;font-size:16.8px;letter-spacing:0.25px">（亀井摩周）</div>
<div class="h" style="left:429.6px;top:1504.3px;font-size:14px;letter-spacing:0.25px">「コラーゲンサプリは効果</div>
<div class="h" style="left:465.7px;top:1522.7px;font-size:14px;letter-spacing:0.25px">あるの？の話」</div>
<div class="k" style="left:438.6px;top:1553.5px;font-size:16.5px;letter-spacing:0.22px">1600-1645</div>
<div class="s" style="left:531.6px;top:1552.8px;font-size:16.2px;letter-spacing:0.25px">（中武）</div>
<div class="x U" style="left:439.9px;top:1585px;width:84.7px;height:24.8px;line-height:25.6px;font-size:16.5px">2000-2030</div>
<div class="p" style="left:430px;top:1606.3px;font-size:13.8px;letter-spacing:-0.60px">「フリースタイル」</div>
<div class="s" style="left:540px;top:1605.5px;font-size:13.8px;letter-spacing:0.19px">（Hiroyo）</div>
<div class="x B" style="left:622.2px;top:1374.8px;width:84.7px;height:24.8px;line-height:25.6px;font-size:16.5px">0600-0630</div>
<div class="b" style="left:702.1px;top:1376.6px;font-size:14px;letter-spacing:-1.52px">「Sストレッチ」</div>
<div class="s" style="left:709px;top:1396px;font-size:13.5px;letter-spacing:0.84px">（ミタマユ）</div>
<div class="k" style="left:624px;top:1436.9px;font-size:16.5px;letter-spacing:0.11px">0700-0745</div>
<div class="s" style="left:719.1px;top:1437.2px;font-size:16.2px;letter-spacing:0.25px">（房野）</div>
<div class="k" style="left:623.4px;top:1491.2px;font-size:16.5px;letter-spacing:0.18px">1000-1045</div>
<div class="s" style="left:713.5px;top:1491.5px;font-size:16.2px;letter-spacing:0.25px">（CHIE）</div>
<div class="x U" style="left:623.1px;top:1546.4px;width:84.6px;height:24.8px;line-height:25.6px;font-size:16.5px">2115-2145</div>
<div class="p" style="left:622.5px;top:1571.8px;letter-spacing:-0.48px">「フリースタイル」</div>
<div class="s" style="left:651.6px;top:1591.7px;font-size:15.3px;letter-spacing:-1.23px">（スミエ・スマイル）</div>
<div class="o" style="left:889.1px;top:1377.2px;font-size:16.3px;letter-spacing:0.25px">「初心者」</div>
<div class="x O" style="left:813.5px;top:1375.9px;width:84.4px;height:24.8px;line-height:25.6px;font-size:16.5px">0600-0630</div>
<div class="s" style="left:889.9px;top:1398.5px;font-size:16.2px;letter-spacing:0.25px">（ミタマユ）</div>
<div class="k" style="left:810.6px;top:1452.9px;font-size:16.5px;letter-spacing:0.14px">0900-0945</div>
<div class="s" style="left:895.9px;top:1453.2px;font-size:16.2px;letter-spacing:0.25px">（なおみ）</div>
<div class="k" style="left:815.3px;top:1519.7px;font-size:15.6px;letter-spacing:0.20px">2100-2145</div>
<div class="s" style="left:913.2px;top:1519.9px;font-size:15.7px;letter-spacing:0.20px">（NAO）</div>
<div class="k" style="left:999.6px;top:1373.4px;font-size:16.5px">0600-0645</div>
<div class="s" style="left:1086.6px;top:1372.8px;font-size:16.2px;letter-spacing:0.25px">（松本）</div>
<div class="k" style="left:999.6px;top:1410.7px;font-size:16.5px">0845-0930</div>
<div class="s" style="left:1082.9px;top:1409.8px;font-size:16.2px;letter-spacing:0.25px">（みす ）</div>
<div class="x U" style="left:997.5px;top:1452.2px;width:72.6px;height:21px;line-height:21.8px;font-size:14.2px">2030-2100</div>
<div class="p" style="left:989.8px;top:1472.6px;font-size:13.8px;letter-spacing:-0.49px">「フリースタイル」</div>
<div class="s" style="left:1096.5px;top:1471.5px;letter-spacing:0.25px">（Hiroyo）</div>
<div class="x O" style="left:998.6px;top:1516.8px;width:84.4px;height:24.8px;line-height:25.6px;font-size:16.5px">2100-2130</div>
<div class="o" style="left:1080.1px;top:1517.7px;font-size:16.3px;letter-spacing:0.25px">「初心者」</div>
<div class="s" style="left:1083.9px;top:1538.8px;font-size:16.2px;letter-spacing:0.23px">（くまこ）</div>
<div class="x G" style="left:993.9px;top:1577px;width:84.7px;height:24.8px;line-height:25.6px;font-size:16.5px">2300-2330</div>
<div class="g" style="left:1076.3px;top:1578px;font-size:14.5px">「アーシング」</div>
<div class="s" style="left:1099.2px;top:1602.2px;font-size:16.2px;letter-spacing:0.25px">（房野）</div>
<div class="k" style="left:1183.2px;top:1373.6px;font-size:16.5px;letter-spacing:0.11px">0600-0645</div>
<div class="s" style="left:1266px;top:1374px;font-size:16.2px;letter-spacing:0.25px">（CHABA）</div>
<div class="x B" style="left:1182.6px;top:1409.8px;width:84.4px;height:24.8px;line-height:25.6px;font-size:16.5px">0700-0730</div>
<div class="b" style="left:1269px;top:1411.8px;font-size:14px;letter-spacing:-1.23px">「Sストレッチ」</div>
<div class="s" style="left:1274.4px;top:1433px;font-size:16.2px;letter-spacing:0.10px">（くまこ）</div>
<div class="x U" style="left:1181px;top:1462.8px;width:72.5px;height:21px;line-height:21.8px;font-size:14.2px">0745-0815</div>
<div class="p" style="left:1244.7px;top:1462.2px;font-size:13.8px;letter-spacing:-0.24px">「フリースタイル」</div>
<div class="s" style="left:1231.9px;top:1486.5px;font-size:16.2px;letter-spacing:-0.96px">（くまこ・こずえ）</div>
<div class="k" style="left:1184.3px;top:1522.4px;font-size:16.5px;letter-spacing:0.12px">0900-0945</div>
<div class="s" style="left:1217.5px;top:1541.7px;font-size:15.3px;letter-spacing:-1.43px">（スミエ・スマイル）</div>
<div class="x R" style="left:1186.7px;top:1574px;width:95.4px;height:24.8px;line-height:25.6px;font-size:16.5px">20:30-21:15</div>
<div class="b" style="left:1208.8px;top:1600.2px;font-size:15.5px;letter-spacing:-0.20px">（オープンハウス）</div>
<div class="k" style="left:62.2px;top:1692.3px;font-size:16.5px;letter-spacing:0.14px">0630-0715</div>
<div class="s" style="left:145px;top:1692.7px;font-size:16.2px;letter-spacing:0.25px">（黒田るみ）</div>
<div class="s" style="left:62.2px;top:1733.8px;font-size:16.4px;letter-spacing:0.20px"><span style="color:#e45e44">0</span><span style="color:#00914b">8</span><span style="color:#6b3a12">0</span><span style="color:#e45e44">0</span><span style="color:#00914b">-</span><span style="color:#6b3a12">0</span><span style="color:#e45e44">8</span><span style="color:#00914b">4</span><span style="color:#e45e44">5</span></div>
<div class="y" style="left:105.1px;top:1756.6px;font-size:16.5px;letter-spacing:0.25px;text-shadow:.7px .7px 0 #e9bf45">（ジュガ大阪）</div>
<div class="x U" style="left:59.9px;top:1804.3px;width:84.7px;height:24.8px;line-height:25.6px;font-size:16.5px">0900-0930</div>
<div class="p" style="left:59.4px;top:1830.5px;letter-spacing:-0.49px">「フリースタイル」</div>
<div class="s" style="left:107.6px;top:1852px;font-size:16.2px;letter-spacing:0.25px">（みす/CHABA ）</div>
<div class="k" style="left:63px;top:1894.2px;font-size:16.5px;letter-spacing:0.18px">1700-1745</div>
<div class="s" style="left:145.7px;top:1894.5px;font-size:16.2px;letter-spacing:0.16px">（Hitoao）</div>
<div class="x B" style="left:248px;top:1690.8px;width:79.7px;height:24.8px;line-height:25.6px;font-size:16.5px;font-weight:400">0600-0630</div>
<div class="b" style="left:326.9px;top:1693.3px;font-size:14px;letter-spacing:-1.52px">「Sストレッチ」</div>
<div class="s" style="left:325.9px;top:1714px;font-size:16.2px;letter-spacing:0.25px">（KAORU）</div>
<div class="k" style="left:247.6px;top:1754.4px;font-size:16.5px;letter-spacing:0.13px">0800-0845</div>
<div class="s" style="left:337.8px;top:1753.8px;font-size:16.2px;letter-spacing:0.25px">（rumiko）</div>
<div class="k" style="left:247px;top:1809px;font-size:16.5px;letter-spacing:0.11px">0900-0945</div>
<div class="s" style="left:331.8px;top:1809.3px;font-size:16.2px;letter-spacing:0.25px">（なおみ）</div>
<div class="k" style="left:247.8px;top:1857.3px;font-size:16.5px;letter-spacing:0.11px">2000-2045</div>
<div class="s" style="left:347px;top:1857.7px;font-size:16.2px;letter-spacing:0.25px">（杉山）</div>
<div class="k" style="left:248.6px;top:1900.7px;font-size:15.6px;letter-spacing:0.14px">2100-2145</div>
<div class="s" style="left:346.1px;top:1900.9px;font-size:15.7px;letter-spacing:0.25px">（NAO）</div>
<div class="k" style="left:435.6px;top:1690.4px;font-size:16.5px;letter-spacing:0.12px">0545-0630</div>
<div class="s" style="left:532.3px;top:1689.8px;font-size:16.2px;letter-spacing:0.25px">（マナ）</div>
<div class="x U" style="left:435.2px;top:1739.8px;width:84.7px;height:24.8px;line-height:25.6px;font-size:16.5px">0845-0915</div>
<div class="p" style="left:432.8px;top:1763.1px;font-size:13.8px;letter-spacing:-0.33px">「フリースタイル」</div>
<div class="s" style="left:546.2px;top:1763px;font-size:16.2px;letter-spacing:-0.30px">（みす）</div>
<div class="k" style="left:432.6px;top:1811.8px;font-size:16.5px;letter-spacing:0.21px">1600-1645</div>
<div class="s" style="left:525.1px;top:1810.8px;font-size:16.2px;letter-spacing:0.25px">（中武）</div>
<div class="x U" style="left:439.9px;top:1872.2px;width:84.7px;height:24.8px;line-height:25.6px;font-size:16.5px">2000-2030</div>
<div class="p" style="left:430px;top:1893.5px;font-size:13.8px;letter-spacing:-0.60px">「フリースタイル」</div>
<div class="s" style="left:540px;top:1892.7px;font-size:13.8px;letter-spacing:0.19px">（Hiroyo）</div>
<div class="x B" style="left:622.2px;top:1691.7px;width:84.7px;height:24.8px;line-height:25.6px;font-size:16.5px">0600-0630</div>
<div class="b" style="left:702.1px;top:1694.1px;font-size:14px;letter-spacing:-1.52px">「Sストレッチ」</div>
<div class="s" style="left:709px;top:1713px;font-size:13.5px;letter-spacing:0.84px">（ミタマユ）</div>
<div class="k" style="left:624px;top:1743.3px;font-size:16.5px;letter-spacing:0.11px">0700-0745</div>
<div class="s" style="left:719.1px;top:1743.7px;font-size:16.2px;letter-spacing:0.25px">（房野）</div>
<div class="k" style="left:622.1px;top:1784.7px;font-size:16.5px;letter-spacing:0.08px">0845-0930</div>
<div class="s" style="left:708.2px;top:1777.7px;font-size:16.2px;letter-spacing:0.25px">（みす ）</div>
<div class="k" style="left:624px;top:1825.5px;font-size:16.5px;letter-spacing:0.21px">1700-1745</div>
<div class="s" style="left:713.2px;top:1825.8px;font-size:16.2px;letter-spacing:0.25px">（Deco）</div>
<div class="x U" style="left:623.1px;top:1871.2px;width:84.6px;height:24.8px;line-height:25.6px;font-size:16.5px">2115-2145</div>
<div class="p" style="left:622.5px;top:1896.7px;letter-spacing:-0.48px">「フリースタイル」</div>
<div class="s" style="left:651.6px;top:1916.7px;font-size:15.3px;letter-spacing:-1.23px">（スミエ・スマイル）</div>
<div class="o" style="left:889.1px;top:1687.7px;font-size:16.3px;letter-spacing:0.25px">「初心者」</div>
<div class="x O" style="left:813.5px;top:1686.3px;width:84.4px;height:24.8px;line-height:25.6px;font-size:16.5px">0600-0630</div>
<div class="s" style="left:889.9px;top:1709.8px;font-size:16.2px;letter-spacing:0.25px">（ミタマユ）</div>
<div class="k" style="left:813.4px;top:1751.1px;font-size:16.5px;letter-spacing:0.14px">0900-0945</div>
<div class="s" style="left:898.6px;top:1751.5px;font-size:16.2px;letter-spacing:0.25px">（なおみ）</div>
<div class="k" style="left:813.6px;top:1812.3px;font-size:16.5px">2000-2045</div>
<div class="s" style="left:895.8px;top:1811.2px;font-size:16.2px;letter-spacing:-0.32px">（ユミリー）</div>
<div class="k" style="left:813.6px;top:1884px;font-size:15.6px;letter-spacing:0.16px">2100-2145</div>
<div class="s" style="left:910.5px;top:1884.3px;font-size:15.7px;letter-spacing:0.17px">（NAO）</div>
<div class="k" style="left:999.6px;top:1686.3px;font-size:16.5px">0600-0645</div>
<div class="s" style="left:1086.6px;top:1685.8px;font-size:16.2px;letter-spacing:0.25px">（松本）</div>
<div class="k" style="left:999.6px;top:1724px;font-size:16.5px">0845-0930</div>
<div class="s" style="left:1084.1px;top:1722.8px;font-size:16.2px;letter-spacing:0.25px">（みす ）</div>
<div class="x G" style="left:996.1px;top:1771.7px;width:71.8px;height:21px;line-height:21.8px;font-size:14.2px">2000-2045</div>
<div class="g" style="left:1079.2px;top:1770px;font-size:13.3px;letter-spacing:0.15px">「アーシング」</div>
<div class="s" style="left:1083.1px;top:1787.1px;font-size:13.8px;letter-spacing:0.25px">（Hiroyo）</div>
<div class="x O" style="left:996.1px;top:1826.4px;width:85px;height:24.8px;line-height:25.6px;font-size:16.5px">2100-2130</div>
<div class="o" style="left:1080.1px;top:1827.2px;font-size:16.3px;letter-spacing:0.25px">「初心者」</div>
<div class="s" style="left:1083.9px;top:1847.7px;font-size:16.2px;letter-spacing:0.23px">（くまこ）</div>
<div class="x G" style="left:999.2px;top:1884.9px;width:84.6px;height:24.8px;line-height:25.6px;font-size:16.5px">2300-2330</div>
<div class="g" style="left:1081.3px;top:1886.5px;font-size:14.5px">「アーシング」</div>
<div class="s" style="left:1099.2px;top:1911.3px;font-size:16.2px;letter-spacing:0.25px">（房野）</div>
<div class="t" style="left:273.8px;top:29.7px;font-size:112px;letter-spacing:4.45px;line-height:134px;font-weight:350">公式</div>
<div class="t" style="left:507px;top:33.7px;font-size:116px;letter-spacing:2.80px;line-height:139px;font-weight:350;transform-origin:0 50%;transform:scale(.8,1.06) skewX(-5deg)">online</div>
<div class="t" style="left:797.1px;top:30.5px;font-size:110px;letter-spacing:9.83px;line-height:132px;font-weight:350">ジュガ</div>
<div class="t" style="left:100.7px;top:160.6px;font-size:91.7px;letter-spacing:-9.91px;line-height:110px;font-weight:300"><span class="one">1</span>0</div>
<div class="t" style="left:190.8px;top:167.9px;font-size:78px;line-height:94px;font-weight:350">月</div>
<div class="t" style="left:288.1px;top:171.4px;font-size:76px;letter-spacing:12.75px;line-height:91px;font-weight:350">クラススケジュール</div>
<div class="t" style="left:1080.8px;top:160.6px;font-size:91.7px;letter-spacing:2.18px;line-height:110px;font-weight:300">-2025</div>
</div>
</body></html>
